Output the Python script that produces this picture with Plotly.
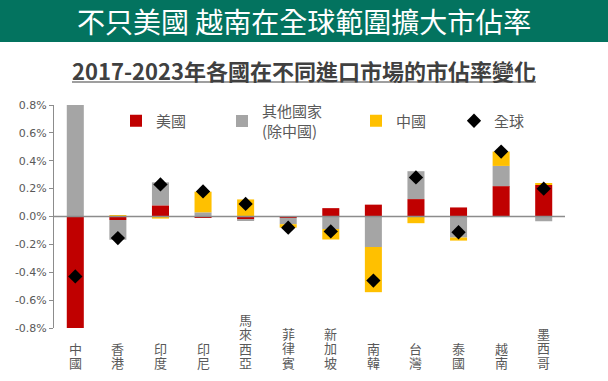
import plotly.graph_objects as go

# ---- data ----
categories = ["中國", "香港", "印度", "印尼", "馬來西亞", "菲律賓", "新加坡", "南韓", "台灣", "泰國", "越南", "墨西哥"]
us_share = [-0.80, -0.025, 0.08, -0.005, -0.02, -0.01, 0.06, 0.085, 0.125, 0.065, 0.218, 0.226]
other_share = [0.80, -0.142, 0.165, 0.03, -0.012, -0.045, -0.09, -0.219, 0.20, -0.151, 0.145, -0.034]
china_share = [0.0, 0.01, -0.015, 0.148, 0.1225, -0.025, -0.075, -0.324, -0.048, -0.022, 0.103, 0.008]
global_share = [-0.43, -0.155, 0.23, 0.18, 0.09, -0.08, -0.107, -0.46, 0.28, -0.113, 0.466, 0.20]
tick_vals = [-0.8, -0.6, -0.4, -0.2, 0.0, 0.2, 0.4, 0.6, 0.8]
tick_text = ["-0.8%", "-0.6%", "-0.4%", "-0.2%", "0.0%", "0.2%", "0.4%", "0.6%", "0.8%"]
series_names = ["美國", "其他國家<br>(除中國)", "中國", "全球"]
title_text = "不只美國 越南在全球範圍擴大市佔率"
subtitle_text = "2017-2023年各國在不同進口市場的市佔率變化"

W, H = 608, 381
L, R, T, B = 54, 43, 105, 53
PW, PH = W - L - R, H - T - B


def px2x(px):
    return (px - L) / PW


def py2y(py):
    return 1 - (py - T) / PH


GRAY_TXT = "#595959"
FONT = "Noto Sans CJK TC"

fig = go.Figure()
bar_colors = ["#C00000", "#A5A5A5", "#FFC000"]
legend_ids = ["legend", "legend2", "legend3", "legend4"]
for vals, name, col, lg in zip([us_share, other_share, china_share], series_names[:3], bar_colors, legend_ids[:3]):
    fig.add_trace(go.Bar(x=categories, y=vals, name=name, marker=dict(color=col, line=dict(width=0)),
                         width=0.4, legend=lg))
fig.add_trace(go.Scatter(x=categories, y=global_share, name=series_names[3], mode="markers",
                         marker=dict(symbol="diamond", size=11, color="black"), legend="legend4"))

fig.add_hline(y=0, line=dict(color="#8C8C8C", width=1.5), layer="above")

# category labels as vertical stacked text, bottom aligned
for c in categories:
    txt = "<br>".join(f"<span style='font-size:13px'>{ch}</span>" for ch in c)
    fig.add_annotation(x=c, xref="x", y=py2y(374), yref="paper", yanchor="bottom", xanchor="center",
                       text=txt, showarrow=False, font=dict(family=FONT, size=11, color=GRAY_TXT))

# banner
fig.add_shape(type="rect", xref="paper", yref="paper", x0=px2x(0), x1=px2x(W), y0=py2y(42), y1=py2y(0),
              fillcolor="#03735F", line=dict(width=0), layer="below")
fig.add_annotation(x=px2x(304), y=py2y(21), xref="paper", yref="paper", text=title_text, showarrow=False,
                   font=dict(family=FONT, size=28, color="white"), xanchor="center", yanchor="middle")
fig.add_annotation(x=px2x(304), y=py2y(70), xref="paper", yref="paper", text=f"<b>{subtitle_text}</b>",
                   showarrow=False, font=dict(family=FONT, size=22, color="#404040"),
                   xanchor="center", yanchor="middle")
fig.add_shape(type="line", xref="paper", yref="paper", x0=px2x(72), x1=px2x(536), y0=py2y(82), y1=py2y(82),
              line=dict(color="#404040", width=1.2))

leg_font = dict(family=FONT, size=15, color=GRAY_TXT)
leg_y = py2y(121)
legend_lefts = [116, 222, 356, 454]
layout_legends = {}
for lg, lx in zip(legend_ids, legend_lefts):
    layout_legends[lg] = dict(x=px2x(lx), xanchor="left", y=leg_y, yanchor="middle", font=leg_font,
                              bgcolor="rgba(0,0,0,0)", borderwidth=0)

fig.update_layout(
    width=W, height=H,
    margin=dict(l=L, r=R, t=T, b=B),
    plot_bgcolor="white", paper_bgcolor="white",
    barmode="relative",
    showlegend=True,
    **layout_legends,
    xaxis=dict(showticklabels=False, showline=False, ticks="", showgrid=False, zeroline=False,
               range=[-0.5, len(categories) - 0.5]),
    yaxis=dict(range=[-0.8, 0.8], tickvals=tick_vals, ticktext=tick_text, showgrid=False, zeroline=False,
               showline=True, linecolor="#8C8C8C", linewidth=1, ticks="outside", ticklen=4,
               tickcolor="#8C8C8C", tickfont=dict(family="DejaVu Sans", size=11, color=GRAY_TXT)),
)

fig.write_html("out.html", config={"displayModeBar": False},
               post_script="document.body.style.margin='0';")
